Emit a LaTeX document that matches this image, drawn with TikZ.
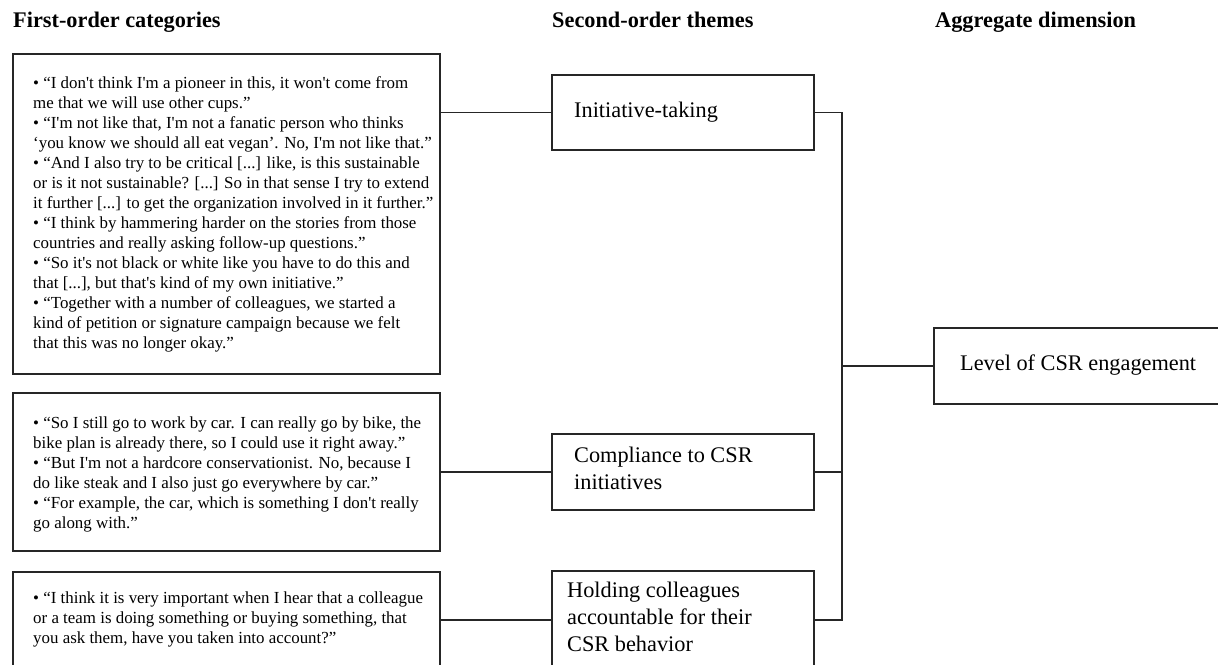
\documentclass[tikz,border=0pt]{standalone}
\usepackage{fontspec}
\setmainfont{Liberation Serif}[Ligatures=TeXOff]
\usetikzlibrary{positioning}

\tikzset{
    frame/.style={draw=black!85, line width=1.8pt, anchor=north west, inner sep=0pt},
    quote/.style={anchor=north west, inner sep=0pt, align=left, font=\fontsize{16.9}{20}\selectfont},
    theme/.style={anchor=north west, inner sep=0pt, align=left, font=\fontsize{22.3}{26.7}\selectfont},
    heading/.style={anchor=base west, inner sep=0pt, font=\fontsize{22.3}{26.7}\selectfont\bfseries},
    link/.style={draw=black!85, line width=1.8pt, line join=miter}
}

\begin{document}
\begin{tikzpicture}[x=1pt, y=1pt]
    \clip (0,0) rectangle (1218,-664);
    \useasboundingbox (0,0) rectangle (1218,-664);

    % column headings
    \node [heading] (h1) at (13,-27) {First-order categories};
    \node [heading] (h2) at (552,-27) {Second-order themes};
    \node [heading] (h3) at (935,-27) {Aggregate dimension};

    % first-order boxes
    \node [frame, minimum width=427, minimum height=320] (box1) at (12,-53) {};
    \node [frame, minimum width=427, minimum height=158] (box2) at (12,-392) {};
    \node [frame, minimum width=427, minimum height=100] (box3) at (12,-571) {};

    \node [quote, below right=21pt and 21pt of box1.north west] (q1) {\strut• “I don't think I'm a pioneer in this, it won't come from\\
        me that we will use other cups.”\\
        • “I'm not like that, I'm not a fanatic person who thinks\\
        ‘you know we should all eat vegan’. No, I'm not like that.”\\
        • “And I also try to be critical [...] like, is this sustainable\\
        or is it not sustainable? [...] So in that sense I try to extend\\
        it further [...] to get the organization involved in it further.”\\
        • “I think by hammering harder on the stories from those\\
        countries and really asking follow-up questions.”\\
        • “So it's not black or white like you have to do this and\\
        that [...], but that's kind of my own initiative.”\\
        • “Together with a number of colleagues, we started a\\
        kind of petition or signature campaign because we felt\\
        that this was no longer okay.”};
    \node [quote, below right=22pt and 21pt of box2.north west] (q2) {\strut• “So I still go to work by car. I can really go by bike, the\\
        bike plan is already there, so I could use it right away.”\\
        • “But I'm not a hardcore conservationist. No, because I\\
        do like steak and I also just go everywhere by car.”\\
        • “For example, the car, which is something I don't really\\
        go along with.”};
    \node [quote, below right=18pt and 21pt of box3.north west] (q3) {\strut• “I think it is very important when I hear that a colleague\\
        or a team is doing something or buying something, that\\
        you ask them, have you taken into account?”};

    % second-order themes
    \node [frame, minimum width=262, minimum height=75] (theme1) at (551,-74) {};
    \node [frame, minimum width=262, minimum height=76] (theme2) at (551,-433) {};
    \node [frame, minimum width=262, minimum height=98] (theme3) at (551,-570) {};

    \node [theme, below right=25pt and 23pt of theme1.north west] (t1) {\strut Initiative-taking};
    \node [theme, below right=11pt and 23pt of theme2.north west] (t2) {\strut Compliance to CSR\\ initiatives};
    \node [theme, below right=9pt and 16pt of theme3.north west] (t3) {\strut Holding colleagues\\ accountable for their\\ CSR behavior};

    % aggregate dimension
    \node [frame, minimum width=300, minimum height=76] (agg) at (933,-327) {};
    \node [theme, below right=25pt and 27pt of agg.north west] (a1) {\strut Level of CSR engagement};

    \coordinate (bus) at (842,-365);

    \foreach \i in {1, 2, 3}{
        \draw [link] (box\i.east |- theme\i.west) -- (theme\i.west);
    }
    \draw [link] (theme1.east) -- (theme1.east -| bus) -- (theme3.east -| bus) -- (theme3.east);
    \draw [link] (theme2.east) -- (theme2.east -| bus);
    \draw [link] (agg.west -| bus) -- (agg.west);
\end{tikzpicture}
\end{document}
